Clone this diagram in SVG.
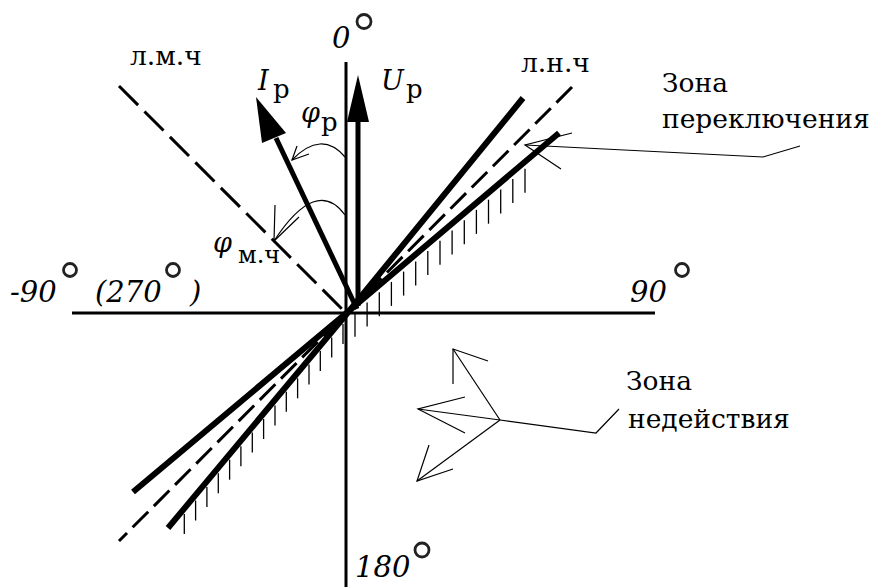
<svg xmlns="http://www.w3.org/2000/svg" width="876" height="587" viewBox="0 0 876 587">
<style>
.ax{stroke:#000;stroke-width:3;fill:none}
.thick{stroke:#000;stroke-width:6;fill:none;stroke-linejoin:miter}
.vec{stroke:#000;stroke-width:5;fill:none}
.dash1{stroke:#000;stroke-width:3;fill:none;stroke-dasharray:27 9}
.dash2{stroke:#000;stroke-width:3;fill:none;stroke-dasharray:22 8}
.hatch{stroke:#000;stroke-width:1.3}
.thin{stroke:#000;stroke-width:1.2;fill:none}
.cyr{font-family:'DejaVu Serif',serif;fill:#000}
.lat{font-family:'DejaVu Serif',serif;font-style:italic;fill:#000}
.lbl{font-size:26.5px}
.sub{font-size:26px}
.subs{font-size:24px}
.num{font-size:29px}
.sym{font-size:27px}
.deg{fill:none;stroke:#222;stroke-width:2.8}
</style>
<g id="axes">
<line class="ax" x1="346" y1="62" x2="346" y2="587"/>
<line class="ax" x1="72" y1="313" x2="655" y2="313"/>
</g>
<g id="line-lmch">
<line class="dash1" x1="119" y1="86" x2="346" y2="313"/>
</g>
<g id="line-lnch">
<line class="dash2" x1="572" y1="87" x2="119" y2="541"/>
</g>
<g id="zone-bound-1">
<polyline class="thick" points="523,98 350,310 133,492"/>
</g>
<g id="zone-bound-2">
<polyline class="thick" points="559,133 350,310 168,528"/>
</g>
<g id="hatching">
<line class="hatch" x1="355" y1="312.8" x2="355" y2="336.8"/>
<line class="hatch" x1="367.1" y1="302.5" x2="367.1" y2="326.5"/>
<line class="hatch" x1="379.3" y1="292.2" x2="379.3" y2="316.2"/>
<line class="hatch" x1="391.4" y1="281.9" x2="391.4" y2="305.9"/>
<line class="hatch" x1="403.6" y1="271.6" x2="403.6" y2="295.6"/>
<line class="hatch" x1="415.7" y1="261.4" x2="415.7" y2="285.4"/>
<line class="hatch" x1="427.8" y1="251.1" x2="427.8" y2="275.1"/>
<line class="hatch" x1="440" y1="240.8" x2="440" y2="264.8"/>
<line class="hatch" x1="452.1" y1="230.5" x2="452.1" y2="254.5"/>
<line class="hatch" x1="464.3" y1="220.2" x2="464.3" y2="244.2"/>
<line class="hatch" x1="476.4" y1="209.9" x2="476.4" y2="233.9"/>
<line class="hatch" x1="488.5" y1="199.7" x2="488.5" y2="223.7"/>
<line class="hatch" x1="500.7" y1="189.4" x2="500.7" y2="213.4"/>
<line class="hatch" x1="512.8" y1="179.1" x2="512.8" y2="203.1"/>
<line class="hatch" x1="525" y1="168.8" x2="525" y2="192.8"/>
<line class="hatch" x1="343" y1="323.9" x2="343" y2="343.9"/>
<line class="hatch" x1="331.7" y1="337.4" x2="331.7" y2="357.4"/>
<line class="hatch" x1="320.3" y1="351.1" x2="320.3" y2="371.1"/>
<line class="hatch" x1="309" y1="364.6" x2="309" y2="384.6"/>
<line class="hatch" x1="297.6" y1="378.3" x2="297.6" y2="398.3"/>
<line class="hatch" x1="286.3" y1="391.8" x2="286.3" y2="411.8"/>
<line class="hatch" x1="275" y1="405.4" x2="275" y2="425.4"/>
<line class="hatch" x1="263.6" y1="419" x2="263.6" y2="439"/>
<line class="hatch" x1="252.3" y1="432.5" x2="252.3" y2="452.5"/>
<line class="hatch" x1="240.9" y1="446.2" x2="240.9" y2="466.2"/>
<line class="hatch" x1="229.6" y1="459.7" x2="229.6" y2="479.7"/>
<line class="hatch" x1="218.3" y1="473.3" x2="218.3" y2="493.3"/>
<line class="hatch" x1="206.9" y1="486.9" x2="206.9" y2="506.9"/>
<line class="hatch" x1="195.6" y1="500.5" x2="195.6" y2="520.5"/>
<line class="hatch" x1="184.3" y1="514" x2="184.3" y2="534"/>
</g>
<g id="vector-U">
<line class="vec" x1="358" y1="306" x2="358" y2="118"/>
<polygon points="358,75 369,122 347,122" fill="#000"/>
</g>
<g id="vector-I">
<line class="vec" x1="357" y1="309" x2="276" y2="138"/>
<polygon points="256,97 286,133 262,143" fill="#000"/>
</g>
<g id="angle-phi-p">
<path class="thin" d="M345,157 Q321.5,129.5 292,160"/>
<polyline class="thin" points="297,146 292,160 309,154"/>
</g>
<g id="angle-phi-mch">
<path class="thin" d="M345,215 Q316.5,176 274,241"/>
<polyline class="thin" points="275,205 274,241 299,217"/>
</g>
<g id="connectors">
<polyline class="thin" points="572,133 525,145 561,169"/>
<polyline class="thin" points="525,145 763,157 800,146"/>
<polyline class="thin" points="453,384 453,349 488,361"/>
<line class="thin" x1="453" y1="349" x2="500" y2="420"/>
<polyline class="thin" points="465,397 418,409 465,433"/>
<line class="thin" x1="418" y1="409" x2="500" y2="420"/>
<polyline class="thin" points="429,445 417,481 453,469"/>
<line class="thin" x1="417" y1="481" x2="500" y2="420"/>
<polyline class="thin" points="500,420 596,433 619,409"/>
</g>
<g id="labels">
<text class="cyr lbl" x="130" y="65">л.м.ч</text>
<text class="cyr lbl" x="521" y="72">л.н.ч</text>
<text class="cyr lbl" x="662" y="92">Зона</text>
<text class="cyr lbl" x="662" y="128">переключения</text>
<text class="cyr lbl" x="626" y="390">Зона</text>
<text class="cyr lbl" x="628" y="428">недействия</text>
<text class="lat sym" x="258" y="90">I</text>
<text class="cyr sub" x="273" y="98">р</text>
<text class="lat sym" x="381" y="90">U</text>
<text class="cyr sub" x="406" y="98">р</text>
<text class="lat sym" x="301" y="122">φ</text>
<text class="cyr sub" x="321" y="131">р</text>
<text class="lat sym" x="213" y="252">φ</text>
<text class="cyr subs" x="238" y="263">м.ч</text>
</g>
<g id="degree-labels">
<text class="lat num" x="332" y="48">0</text>
<circle class="deg" cx="364" cy="21.5" r="7"/>
<text class="lat num" x="10" y="302">-90</text>
<circle class="deg" cx="70" cy="270" r="6.5"/>
<text class="lat num" x="95" y="302">(270</text>
<circle class="deg" cx="173" cy="270" r="6.5"/>
<text class="lat num" x="190" y="302">)</text>
<text class="lat num" x="630" y="302">90</text>
<circle class="deg" cx="682" cy="270" r="6.5"/>
<text class="lat num" x="355" y="577">180</text>
<circle class="deg" cx="422" cy="550" r="7"/>
</g>
</svg>
